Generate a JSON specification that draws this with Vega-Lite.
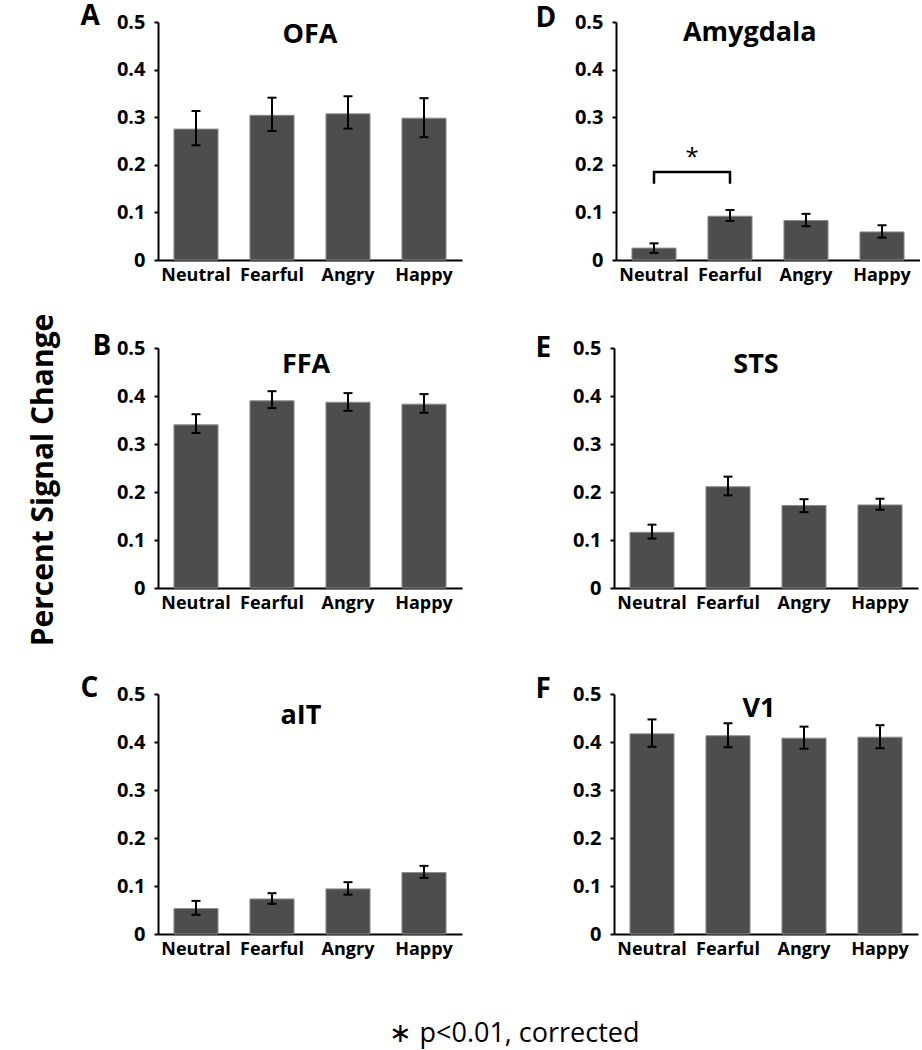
{
  "$schema": "https://vega.github.io/schema/vega-lite/v6.json",
  "padding": {"left": 28, "top": 2, "right": 0, "bottom": 5},
  "background": "white",
  "datasets": {
    "roi": [
      {"roi": "OFA", "cond": "Neutral", "mean": 0.275, "lo": 0.241, "hi": 0.313},
      {"roi": "OFA", "cond": "Fearful", "mean": 0.304, "lo": 0.271, "hi": 0.341},
      {"roi": "OFA", "cond": "Angry", "mean": 0.307, "lo": 0.276, "hi": 0.344},
      {"roi": "OFA", "cond": "Happy", "mean": 0.298, "lo": 0.258, "hi": 0.340},
      {"roi": "FFA", "cond": "Neutral", "mean": 0.340, "lo": 0.323, "hi": 0.362},
      {"roi": "FFA", "cond": "Fearful", "mean": 0.390, "lo": 0.375, "hi": 0.410},
      {"roi": "FFA", "cond": "Angry", "mean": 0.387, "lo": 0.369, "hi": 0.406},
      {"roi": "FFA", "cond": "Happy", "mean": 0.383, "lo": 0.365, "hi": 0.404},
      {"roi": "aIT", "cond": "Neutral", "mean": 0.053, "lo": 0.040, "hi": 0.069},
      {"roi": "aIT", "cond": "Fearful", "mean": 0.073, "lo": 0.063, "hi": 0.085},
      {"roi": "aIT", "cond": "Angry", "mean": 0.094, "lo": 0.082, "hi": 0.108},
      {"roi": "aIT", "cond": "Happy", "mean": 0.128, "lo": 0.117, "hi": 0.142},
      {"roi": "Amygdala", "cond": "Neutral", "mean": 0.025, "lo": 0.015, "hi": 0.035},
      {"roi": "Amygdala", "cond": "Fearful", "mean": 0.092, "lo": 0.082, "hi": 0.105},
      {"roi": "Amygdala", "cond": "Angry", "mean": 0.083, "lo": 0.071, "hi": 0.097},
      {"roi": "Amygdala", "cond": "Happy", "mean": 0.059, "lo": 0.047, "hi": 0.073},
      {"roi": "STS", "cond": "Neutral", "mean": 0.116, "lo": 0.103, "hi": 0.132},
      {"roi": "STS", "cond": "Fearful", "mean": 0.211, "lo": 0.193, "hi": 0.232},
      {"roi": "STS", "cond": "Angry", "mean": 0.172, "lo": 0.158, "hi": 0.185},
      {"roi": "STS", "cond": "Happy", "mean": 0.173, "lo": 0.163, "hi": 0.186},
      {"roi": "V1", "cond": "Neutral", "mean": 0.417, "lo": 0.390, "hi": 0.447},
      {"roi": "V1", "cond": "Fearful", "mean": 0.413, "lo": 0.389, "hi": 0.439},
      {"roi": "V1", "cond": "Angry", "mean": 0.408, "lo": 0.386, "hi": 0.432},
      {"roi": "V1", "cond": "Happy", "mean": 0.410, "lo": 0.387, "hi": 0.435}
    ],
    "bracket": [
      {"cond": "Neutral", "y": 0.160, "step": 1},
      {"cond": "Neutral", "y": 0.185, "step": 2},
      {"cond": "Fearful", "y": 0.185, "step": 3},
      {"cond": "Fearful", "y": 0.160, "step": 4}
    ]
  },
  "config": {
    "view": {"stroke": null},
    "font": "Open Sans",
    "axis": {"grid": false, "domainColor": "black", "domainWidth": 2, "tickColor": "black", "tickWidth": 2, "labelColor": "black", "labelFont": "Open Sans", "labelFontWeight": "bold", "titleColor": "black", "titleFont": "Open Sans"},
    "axisX": {"ticks": false, "labelFontSize": 18, "labelAngle": 0, "labelPadding": 6},
    "axisY": {"tickSize": 4, "labelFontSize": 20, "labelPadding": 9, "values": [0, 0.1, 0.2, 0.3, 0.4, 0.5], "format": "~g", "titleFontSize": 28, "titleFontWeight": "bold", "titleAngle": 0, "titleAlign": "left", "titleBaseline": "alphabetic"},
    "title": {"color": "black", "font": "Open Sans"}
  },
  "title": {"text": "∗  p<0.01, corrected", "orient": "bottom", "anchor": "middle", "fontSize": 27, "fontWeight": "normal", "offset": 63, "dx": 40},
  "vconcat": [
    {
      "title": {"text": "Percent Signal Change", "orient": "left", "anchor": "middle", "fontSize": 30, "fontWeight": "bold", "offset": 21},
      "spacing": 62,
      "vconcat": [
        {
          "spacing": 48,
          "vconcat": [
            {
              "spacing": 73,
              "hconcat": [
                {
                  "width": 304, "height": 238,
                  "resolve": {"scale": {"x": "independent"}},
                  "layer": [
                    {
                      "data": {"name": "roi"},
                      "transform": [{"filter": "datum.roi == 'OFA'"}],
                      "encoding": {"x": {"field": "cond", "type": "nominal", "sort": ["Neutral", "Fearful", "Angry", "Happy"], "scale": {"paddingInner": 0.42, "paddingOuter": 0.21}, "axis": {"title": null}}},
                      "layer": [
                        {"mark": {"type": "bar", "fill": "#4d4d4d", "stroke": "#8c8c8c", "strokeWidth": 1}, "encoding": {"y": {"field": "mean", "type": "quantitative", "scale": {"domain": [0, 0.5], "nice": false}, "axis": {"title": "A", "titleX": -78, "titleY": 2, "titleFontSize": 28}}}},
                        {"mark": {"type": "rule", "color": "black", "strokeWidth": 2}, "encoding": {"y": {"field": "lo", "type": "quantitative"}, "y2": {"field": "hi"}}},
                        {"mark": {"type": "tick", "color": "black", "opacity": 1, "thickness": 2, "size": 9}, "encoding": {"y": {"field": "lo", "type": "quantitative"}}},
                        {"mark": {"type": "tick", "color": "black", "opacity": 1, "thickness": 2, "size": 9}, "encoding": {"y": {"field": "hi", "type": "quantitative"}}}
                      ]
                    },
                    {
                      "data": {"name": "roi"},
                      "transform": [{"filter": "datum.roi == 'OFA' && datum.cond == 'Neutral'"}],
                      "mark": {"type": "text", "fontSize": 27, "fontWeight": "bold", "baseline": "alphabetic", "align": "center", "color": "black"},
                      "encoding": {"x": {"datum": 0.5, "type": "quantitative", "scale": {"domain": [0, 1]}, "axis": null}, "y": {"datum": 0.456, "type": "quantitative"}, "text": {"value": "OFA"}}
                    }
                  ]
                },
                {
                  "width": 304, "height": 238,
                  "resolve": {"scale": {"x": "independent"}},
                  "layer": [
                    {
                      "data": {"name": "roi"},
                      "transform": [{"filter": "datum.roi == 'Amygdala'"}],
                      "encoding": {"x": {"field": "cond", "type": "nominal", "sort": ["Neutral", "Fearful", "Angry", "Happy"], "scale": {"paddingInner": 0.42, "paddingOuter": 0.21}, "axis": {"title": null}}},
                      "layer": [
                        {"mark": {"type": "bar", "fill": "#4d4d4d", "stroke": "#8c8c8c", "strokeWidth": 1}, "encoding": {"y": {"field": "mean", "type": "quantitative", "scale": {"domain": [0, 0.5], "nice": false}, "axis": {"title": "D", "titleX": -81, "titleY": 4, "titleFontSize": 28}}}},
                        {"mark": {"type": "rule", "color": "black", "strokeWidth": 2}, "encoding": {"y": {"field": "lo", "type": "quantitative"}, "y2": {"field": "hi"}}},
                        {"mark": {"type": "tick", "color": "black", "opacity": 1, "thickness": 2, "size": 9}, "encoding": {"y": {"field": "lo", "type": "quantitative"}}},
                        {"mark": {"type": "tick", "color": "black", "opacity": 1, "thickness": 2, "size": 9}, "encoding": {"y": {"field": "hi", "type": "quantitative"}}}
                      ]
                    },
                    {
                      "data": {"name": "bracket"},
                      "mark": {"type": "line", "color": "black", "strokeWidth": 2.5},
                      "encoding": {"x": {"field": "cond", "type": "nominal", "scale": {"domain": ["Neutral", "Fearful", "Angry", "Happy"], "paddingInner": 0.42, "paddingOuter": 0.21}, "axis": null}, "y": {"field": "y", "type": "quantitative"}, "order": {"field": "step"}}
                    },
                    {
                      "data": {"name": "roi"},
                      "transform": [{"filter": "datum.roi == 'Amygdala' && datum.cond == 'Neutral'"}],
                      "mark": {"type": "text", "fontSize": 24, "fontWeight": "normal", "baseline": "alphabetic", "align": "center", "color": "black"},
                      "encoding": {"x": {"datum": 0.25, "type": "quantitative", "scale": {"domain": [0, 1]}, "axis": null}, "y": {"datum": 0.2, "type": "quantitative"}, "text": {"value": "*"}}
                    },
                    {
                      "data": {"name": "roi"},
                      "transform": [{"filter": "datum.roi == 'Amygdala' && datum.cond == 'Neutral'"}],
                      "mark": {"type": "text", "fontSize": 27, "fontWeight": "bold", "baseline": "alphabetic", "align": "center", "color": "black"},
                      "encoding": {"x": {"datum": 0.44, "type": "quantitative", "scale": {"domain": [0, 1]}, "axis": null}, "y": {"datum": 0.46, "type": "quantitative"}, "text": {"value": "Amygdala"}}
                    }
                  ]
                }
              ]
            },
            {
              "spacing": 73,
              "hconcat": [
                {
                  "width": 304, "height": 240,
                  "resolve": {"scale": {"x": "independent"}},
                  "layer": [
                    {
                      "data": {"name": "roi"},
                      "transform": [{"filter": "datum.roi == 'FFA'"}],
                      "encoding": {"x": {"field": "cond", "type": "nominal", "sort": ["Neutral", "Fearful", "Angry", "Happy"], "scale": {"paddingInner": 0.42, "paddingOuter": 0.21}, "axis": {"title": null}}},
                      "layer": [
                        {"mark": {"type": "bar", "fill": "#4d4d4d", "stroke": "#8c8c8c", "strokeWidth": 1}, "encoding": {"y": {"field": "mean", "type": "quantitative", "scale": {"domain": [0, 0.5], "nice": false}, "axis": {"title": "B", "titleX": -66, "titleY": 6, "titleFontSize": 28}}}},
                        {"mark": {"type": "rule", "color": "black", "strokeWidth": 2}, "encoding": {"y": {"field": "lo", "type": "quantitative"}, "y2": {"field": "hi"}}},
                        {"mark": {"type": "tick", "color": "black", "opacity": 1, "thickness": 2, "size": 9}, "encoding": {"y": {"field": "lo", "type": "quantitative"}}},
                        {"mark": {"type": "tick", "color": "black", "opacity": 1, "thickness": 2, "size": 9}, "encoding": {"y": {"field": "hi", "type": "quantitative"}}}
                      ]
                    },
                    {
                      "data": {"name": "roi"},
                      "transform": [{"filter": "datum.roi == 'FFA' && datum.cond == 'Neutral'"}],
                      "mark": {"type": "text", "fontSize": 27, "fontWeight": "bold", "baseline": "alphabetic", "align": "center", "color": "black"},
                      "encoding": {"x": {"datum": 0.487, "type": "quantitative", "scale": {"domain": [0, 1]}, "axis": null}, "y": {"datum": 0.448, "type": "quantitative"}, "text": {"value": "FFA"}}
                    }
                  ]
                },
                {
                  "width": 304, "height": 240,
                  "resolve": {"scale": {"x": "independent"}},
                  "layer": [
                    {
                      "data": {"name": "roi"},
                      "transform": [{"filter": "datum.roi == 'STS'"}],
                      "encoding": {"x": {"field": "cond", "type": "nominal", "sort": ["Neutral", "Fearful", "Angry", "Happy"], "scale": {"paddingInner": 0.42, "paddingOuter": 0.21}, "axis": {"title": null}}},
                      "layer": [
                        {"mark": {"type": "bar", "fill": "#4d4d4d", "stroke": "#8c8c8c", "strokeWidth": 1}, "encoding": {"y": {"field": "mean", "type": "quantitative", "scale": {"domain": [0, 0.5], "nice": false}, "axis": {"title": "E", "titleX": -79, "titleY": 8, "titleFontSize": 28}}}},
                        {"mark": {"type": "rule", "color": "black", "strokeWidth": 2}, "encoding": {"y": {"field": "lo", "type": "quantitative"}, "y2": {"field": "hi"}}},
                        {"mark": {"type": "tick", "color": "black", "opacity": 1, "thickness": 2, "size": 9}, "encoding": {"y": {"field": "lo", "type": "quantitative"}}},
                        {"mark": {"type": "tick", "color": "black", "opacity": 1, "thickness": 2, "size": 9}, "encoding": {"y": {"field": "hi", "type": "quantitative"}}}
                      ]
                    },
                    {
                      "data": {"name": "roi"},
                      "transform": [{"filter": "datum.roi == 'STS' && datum.cond == 'Neutral'"}],
                      "mark": {"type": "text", "fontSize": 27, "fontWeight": "bold", "baseline": "alphabetic", "align": "center", "color": "black"},
                      "encoding": {"x": {"datum": 0.467, "type": "quantitative", "scale": {"domain": [0, 1]}, "axis": null}, "y": {"datum": 0.448, "type": "quantitative"}, "text": {"value": "STS"}}
                    }
                  ]
                }
              ]
            }
          ]
        },
        {
          "spacing": 73,
          "hconcat": [
            {
              "width": 304, "height": 240,
              "resolve": {"scale": {"x": "independent"}},
              "layer": [
                {
                  "data": {"name": "roi"},
                  "transform": [{"filter": "datum.roi == 'aIT'"}],
                  "encoding": {"x": {"field": "cond", "type": "nominal", "sort": ["Neutral", "Fearful", "Angry", "Happy"], "scale": {"paddingInner": 0.42, "paddingOuter": 0.21}, "axis": {"title": null}}},
                  "layer": [
                    {"mark": {"type": "bar", "fill": "#4d4d4d", "stroke": "#8c8c8c", "strokeWidth": 1}, "encoding": {"y": {"field": "mean", "type": "quantitative", "scale": {"domain": [0, 0.5], "nice": false}, "axis": {"title": "C", "titleX": -78, "titleY": 2, "titleFontSize": 28}}}},
                    {"mark": {"type": "rule", "color": "black", "strokeWidth": 2}, "encoding": {"y": {"field": "lo", "type": "quantitative"}, "y2": {"field": "hi"}}},
                    {"mark": {"type": "tick", "color": "black", "opacity": 1, "thickness": 2, "size": 9}, "encoding": {"y": {"field": "lo", "type": "quantitative"}}},
                    {"mark": {"type": "tick", "color": "black", "opacity": 1, "thickness": 2, "size": 9}, "encoding": {"y": {"field": "hi", "type": "quantitative"}}}
                  ]
                },
                {
                  "data": {"name": "roi"},
                  "transform": [{"filter": "datum.roi == 'aIT' && datum.cond == 'Neutral'"}],
                  "mark": {"type": "text", "fontSize": 27, "fontWeight": "bold", "baseline": "alphabetic", "align": "center", "color": "black"},
                  "encoding": {"x": {"datum": 0.47, "type": "quantitative", "scale": {"domain": [0, 1]}, "axis": null}, "y": {"datum": 0.4375, "type": "quantitative"}, "text": {"value": "aIT"}}
                }
              ]
            },
            {
              "width": 304, "height": 240,
              "resolve": {"scale": {"x": "independent"}},
              "layer": [
                {
                  "data": {"name": "roi"},
                  "transform": [{"filter": "datum.roi == 'V1'"}],
                  "encoding": {"x": {"field": "cond", "type": "nominal", "sort": ["Neutral", "Fearful", "Angry", "Happy"], "scale": {"paddingInner": 0.42, "paddingOuter": 0.21}, "axis": {"title": null}}},
                  "layer": [
                    {"mark": {"type": "bar", "fill": "#4d4d4d", "stroke": "#8c8c8c", "strokeWidth": 1}, "encoding": {"y": {"field": "mean", "type": "quantitative", "scale": {"domain": [0, 0.5], "nice": false}, "axis": {"title": "F", "titleX": -79, "titleY": 3, "titleFontSize": 28}}}},
                    {"mark": {"type": "rule", "color": "black", "strokeWidth": 2}, "encoding": {"y": {"field": "lo", "type": "quantitative"}, "y2": {"field": "hi"}}},
                    {"mark": {"type": "tick", "color": "black", "opacity": 1, "thickness": 2, "size": 9}, "encoding": {"y": {"field": "lo", "type": "quantitative"}}},
                    {"mark": {"type": "tick", "color": "black", "opacity": 1, "thickness": 2, "size": 9}, "encoding": {"y": {"field": "hi", "type": "quantitative"}}}
                  ]
                },
                {
                  "data": {"name": "roi"},
                  "transform": [{"filter": "datum.roi == 'V1' && datum.cond == 'Neutral'"}],
                  "mark": {"type": "text", "fontSize": 27, "fontWeight": "bold", "baseline": "alphabetic", "align": "center", "color": "black"},
                  "encoding": {"x": {"datum": 0.477, "type": "quantitative", "scale": {"domain": [0, 1]}, "axis": null}, "y": {"datum": 0.452, "type": "quantitative"}, "text": {"value": "V1"}}
                }
              ]
            }
          ]
        }
      ]
    }
  ]
}
